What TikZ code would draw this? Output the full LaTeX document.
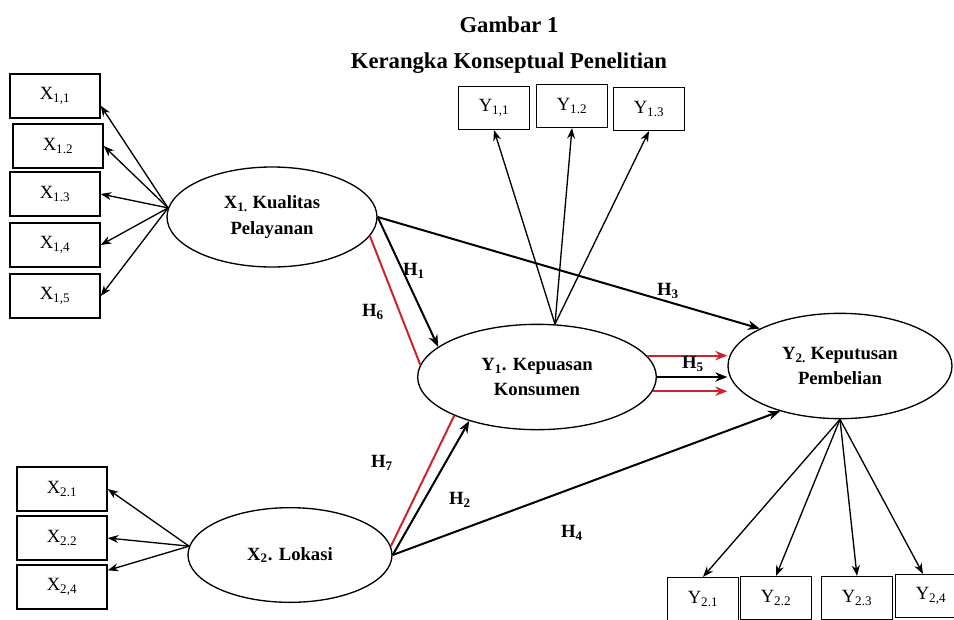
\documentclass[tikz,border=0pt]{standalone}
\usepackage{fontspec}
\setmainfont{Liberation Serif}
\usetikzlibrary{shapes.geometric,arrows.meta}
\definecolor{hred}{RGB}{205,35,45}
\tikzset{
  indbox/.style={rectangle, draw, line width=1.1pt, minimum width=67.5pt, minimum height=33pt, inner sep=0pt, font=\fontsize{14}{16}\selectfont},
  smallbox/.style={indbox, minimum width=53pt, minimum height=32pt},
  latent/.style={ellipse, draw, line width=1pt, inner sep=0pt, align=center, font=\bfseries\fontsize{14}{19}\selectfont},
  ttl/.style={font=\bfseries\fontsize{17}{20}\selectfont},
  hlabel/.style={font=\bfseries\fontsize{14}{16}\selectfont},
  load/.style={line width=1pt, -{Stealth[length=8pt,width=6pt]}},
  hyp/.style={line width=1.5pt, -{Stealth[length=9pt,width=7pt]}},
  hypred/.style={hyp, hred},
  redline/.style={line width=1.5pt, hred}
}
\begin{document}
\begin{tikzpicture}[x=0.75pt,y=-0.75pt]
  \clip (0,0) rectangle (954,619);
  % Title
  \node[ttl] (gambar) at (509,25) {Gambar 1};
  \node[ttl] (judul) at (509,63) {Kerangka Konseptual Penelitian};

  % Latent variables
  \node[latent, minimum width=157.5pt, minimum height=75pt] (x1) at (272,217) {X\textsubscript{1.} Kualitas\\Pelayanan};
  \node[latent, minimum width=179pt, minimum height=79pt] (y1) at (537,377) {Y\textsubscript{1}. Kepuasan\\Konsumen};
  \node[latent, minimum width=168pt, minimum height=79pt] (y2) at (840,366) {Y\textsubscript{2.} Keputusan\\Pembelian};
  \node[latent, minimum width=153pt, minimum height=71pt] (x2) at (290,555) {X\textsubscript{2}. Lokasi};

  % Indicators
  \node[indbox] (x11) at (55,96) {X\textsubscript{1,1}};
  \node[indbox] (x12) at (58,146) {X\textsubscript{1.2}};
  \node[indbox] (x13) at (55,194) {X\textsubscript{1.3}};
  \node[indbox] (x14) at (55,245) {X\textsubscript{1,4}};
  \node[indbox] (x15) at (55,296) {X\textsubscript{1,5}};

  \node[indbox] (x21) at (62,489) {X\textsubscript{2.1}};
  \node[indbox] (x22) at (62,538) {X\textsubscript{2.2}};
  \node[indbox] (x24) at (62,587) {X\textsubscript{2,4}};

  \node[smallbox] (y11) at (494,108) {Y\textsubscript{1,1}};
  \node[smallbox] (y12) at (572,106) {Y\textsubscript{1.2}};
  \node[smallbox] (y13) at (649,109) {Y\textsubscript{1.3}};

  \node[smallbox] (y21) at (703,599) {Y\textsubscript{2.1}};
  \node[smallbox] (y22) at (776,598) {Y\textsubscript{2.2}};
  \node[smallbox] (y23) at (857,598) {Y\textsubscript{2.3}};
  \node[smallbox] (y24) at (931,596) {Y\textsubscript{2,4}};

  % Loadings
  \draw[load] (x1.175) -- (x11.-12);
  \draw[load] (x1.175) -- (x12.east);
  \draw[load] (x1.175) -- (x13.east);
  \draw[load] (x1.175) -- (x14.east);
  \draw[load] (x1.175) -- (x15.east);

  \draw[load] (x2.175) -- (x21.east);
  \draw[load] (x2.175) -- (x22.east);
  \draw[load] (x2.175) -- (x24.20);

  \coordinate (y1top) at (555,324);
  \draw[load] (y1top) -- (y11.south);
  \draw[load] (y1top) -- (y12.south);
  \draw[load] (y1top) -- (y13.south);

  \draw[load] (y2.south) -- (y21.north);
  \draw[load] (y2.south) -- (y22.north);
  \draw[load] (y2.south) -- (y23.north);
  \draw[load] (y2.south) -- ([xshift=-6pt]y24.north);

  % Hypotheses
  \draw[hyp] (x1.east) -- (y1.163);
  \draw[hyp] (x1.east) -- (y2.155);
  \draw[redline] (x1.-11) -- (y1.174);
  \draw[redline] (x2.5) -- (y1.205);
  \draw[hyp] (x2.east) -- (y1.213);
  \draw[hyp] (x2.east) -- (y2.217);
  \draw[hypred] (y1.11) -- (y1.11 -| y2.west);
  \draw[hyp] (y1.east) -- (y1.east -| y2.west);
  \draw[hypred] (y1.-7) -- (y1.-7 -| y2.west);

  % Labels
  \node[hlabel] (h1) at (414,271) {H\textsubscript{1}};
  \node[hlabel] (h2) at (460,500) {H\textsubscript{2}};
  \node[hlabel] (h3) at (668,291) {H\textsubscript{3}};
  \node[hlabel] (h4) at (572,533) {H\textsubscript{4}};
  \node[hlabel] (h5) at (693,364) {H\textsubscript{5}};
  \node[hlabel] (h6) at (373,312) {H\textsubscript{6}};
  \node[hlabel] (h7) at (382,463) {H\textsubscript{7}};
\end{tikzpicture}
\end{document}
